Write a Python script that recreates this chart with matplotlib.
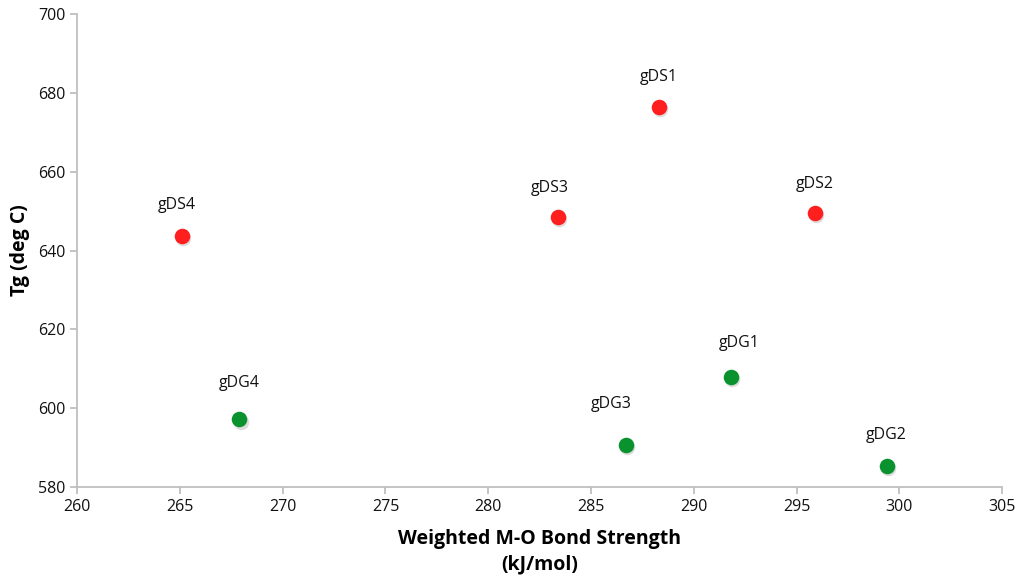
import matplotlib.pyplot as plt

# glass series: silicate (gDS) and germanate (gDG)
ds_names = ['gDS1', 'gDS2', 'gDS3', 'gDS4']
ds_bond = [288.3, 295.9, 283.4, 265.1]
ds_tg = [676.5, 649.5, 648.5, 643.7]

dg_names = ['gDG1', 'gDG2', 'gDG3', 'gDG4']
dg_bond = [291.8, 299.4, 286.7, 267.9]
dg_tg = [608.0, 585.5, 590.8, 597.2]

# label offsets in points (dx, dy)
ds_offsets = [(0, 21), (0, 21), (-6, 21), (-4, 22)]
dg_offsets = [(6, 24), (-1, 22), (-11, 29), (0, 26)]

plt.rcParams['font.family'] = ['Open Sans', 'DejaVu Sans']

fig = plt.figure(figsize=(10.19, 5.80), dpi=100)
ax = fig.add_axes([0.0756, 0.160, 0.908, 0.816])

def draw(xs, ys, color, names, offsets):
    # soft drop shadow under each marker
    ax.scatter([x + 0.06 for x in xs], [y - 0.6 for y in ys], s=125,
               color='#bbbbbb', alpha=0.5, linewidths=0, zorder=2)
    ax.scatter(xs, ys, s=125, color=color, linewidths=0, zorder=3)
    for x, y, n, (dx, dy) in zip(xs, ys, names, offsets):
        ax.annotate(n, (x, y), xytext=(dx, dy), textcoords='offset points',
                    ha='center', va='center', fontsize=11.5, color='#111111')

draw(ds_bond, ds_tg, '#ff1f1f', ds_names, ds_offsets)
draw(dg_bond, dg_tg, '#0a922e', dg_names, dg_offsets)

ax.set_xlim(260, 305)
ax.set_ylim(580, 700)
ax.set_xticks(range(260, 306, 5))
ax.set_yticks(range(580, 701, 20))

for side in ['top', 'right']:
    ax.spines[side].set_visible(False)
for side in ['left', 'bottom']:
    ax.spines[side].set_color('#bfbfbf')
    ax.spines[side].set_linewidth(1.3)
ax.tick_params(direction='out', color='#bfbfbf', width=1.3, length=5,
               labelsize=11.5, labelcolor='#111111')

ax.set_xlabel('Weighted M-O Bond Strength\n(kJ/mol)', fontsize=14,
              fontweight='bold', labelpad=10, linespacing=1.35)
ax.set_ylabel('Tg (deg C)', fontsize=14, fontweight='bold', labelpad=6)

fig.savefig('out.png', dpi=100)
